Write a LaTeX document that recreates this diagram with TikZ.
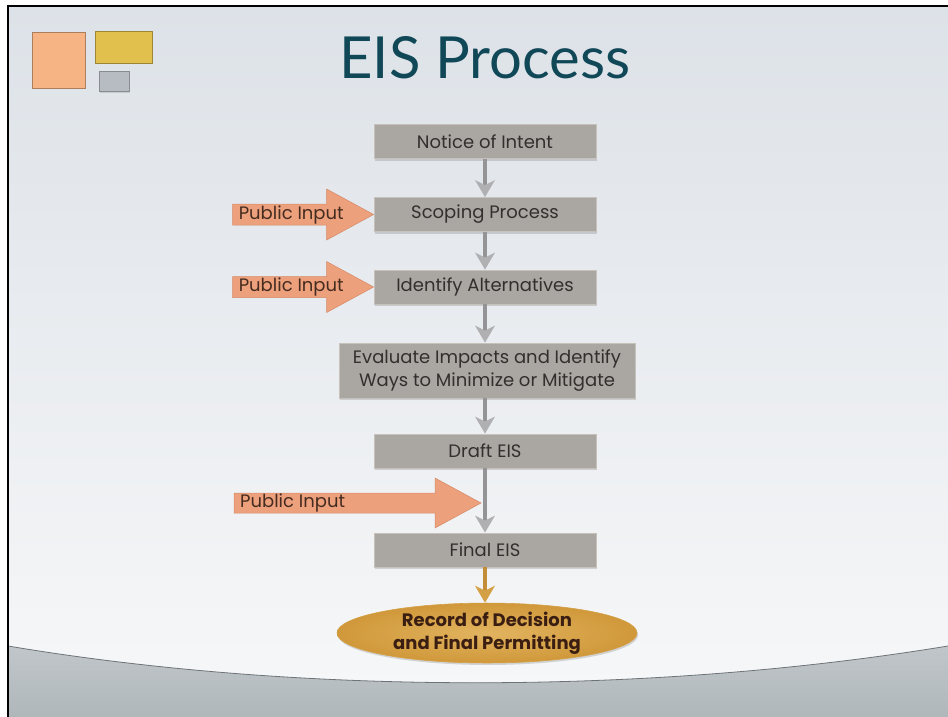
\documentclass[tikz,border=0pt]{standalone}
\usepackage{fontspec}
\setmainfont{Poppins}
\newfontfamily\titlefont{Lato}
\usetikzlibrary{arrows.meta,shapes.geometric,shadows}
\definecolor{slidetop}{RGB}{221,226,232}
\definecolor{slidelow}{RGB}{246,247,248}
\definecolor{floortop}{RGB}{192,198,202}
\definecolor{floorlow}{RGB}{176,183,187}
\definecolor{floorline}{RGB}{110,115,120}
\definecolor{titleteal}{RGB}{16,72,88}
\definecolor{stepgray}{RGB}{170,166,161}
\definecolor{stepedge}{RGB}{198,193,187}
\definecolor{steptext}{RGB}{50,48,46}
\definecolor{inputsalmon}{RGB}{236,160,124}
\definecolor{inputedge}{RGB}{214,138,104}
\definecolor{inputtext}{RGB}{70,44,32}
\definecolor{goldin}{RGB}{226,180,96}
\definecolor{goldout}{RGB}{208,152,58}
\definecolor{decisiontext}{RGB}{58,30,18}
\definecolor{linkgray}{RGB}{148,148,150}
\definecolor{headgray}{RGB}{176,176,178}
\definecolor{linkgold}{RGB}{196,142,56}
\definecolor{headgold}{RGB}{212,160,70}
\definecolor{decoorange}{RGB}{246,180,132}
\definecolor{decoyellow}{RGB}{226,192,78}
\definecolor{decogray}{RGB}{182,188,194}

\begin{document}
\begin{tikzpicture}[x=1pt,y=-1pt,
    stepbox/.style={rectangle, fill=stepgray, draw=stepedge, line width=0.8pt,
      text=steptext, font=\fontsize{18}{23}\selectfont, align=center,
      minimum width=222pt, minimum height=34pt, inner sep=2pt,
      drop shadow={shadow xshift=1pt, shadow yshift=-2pt, opacity=0.3}},
    decision/.style={ellipse, inner color=goldin, outer color=goldout,
      draw=headgold, line width=0.6pt, text=decisiontext,
      font=\bfseries\fontsize{18}{23}\selectfont, align=center,
      minimum width=300pt, minimum height=56pt, inner sep=0pt,
      drop shadow={shadow xshift=1pt, shadow yshift=-2pt, opacity=0.3}},
    pubin/.style={fill=inputsalmon, draw=inputedge, line width=0.5pt, line join=miter},
    publabel/.style={text=inputtext, font=\fontsize{18}{20}\selectfont,
      anchor=west, inner xsep=6pt, inner ysep=0pt},
    link/.style={draw=linkgray, line width=4pt,
      -{Stealth[length=17pt, width=20pt, inset=5pt, line width=0pt, color=headgray]}},
    goldlink/.style={draw=linkgold, line width=4pt,
      -{Stealth[length=17pt, width=20pt, inset=5pt, line width=0pt, color=headgold]}},
    deco/.style={line width=0.8pt, drop shadow={shadow xshift=1pt, shadow yshift=-1.5pt, opacity=0.25}}]

  \useasboundingbox (0,0) rectangle (948,717);
  \fill[white] (0,0) rectangle (948,717);
  \shade[top color=slidetop, bottom color=slidelow] (8,6) rectangle (948,690);
  \shade[top color=floortop, bottom color=floorlow]
    (8,646) .. controls (300,695) and (650,695) .. (948,646) -- (948,717) -- (8,717) -- cycle;
  \draw[floorline, line width=0.8pt] (8,646) .. controls (300,695) and (650,695) .. (948,646);
  \draw[black, line width=2pt] (8,717) -- (8,6) -- (948,6);

  \filldraw[deco, fill=decoorange, draw=decoorange!70!black] (32,32) rectangle (85,88);
  \filldraw[deco, fill=decoyellow, draw=decoyellow!70!black] (95,31) rectangle (152,63);
  \filldraw[deco, fill=decogray, draw=decogray!75!black] (99,71) rectangle (129,91);

  \node[text=titleteal, font=\titlefont\fontsize{58}{60}\selectfont, anchor=base] (title) at (485,78) {EIS Process};

  \node[stepbox] (notice) at (485,141.5) {Notice of Intent};
  \node[stepbox] (scoping) at (485,214.5) {Scoping Process};
  \node[stepbox] (alternatives) at (485,287) {Identify Alternatives};
  \node[stepbox, minimum width=296pt, minimum height=55pt] (evaluate) at (487,370.5)
    {Evaluate Impacts and Identify\\Ways to Minimize or Mitigate};
  \node[stepbox] (draft) at (485,451) {Draft EIS};
  \node[stepbox] (final) at (485,550) {Final EIS};
  \node[decision] (decision) at (487,633) {Record of Decision\\and Final Permitting};

  \coordinate (merge) at (481,503);

  \filldraw[pubin] (scoping.west) -- ++(-47,-25.5) -- ++(0,15) -- ++(-94,0)
    -- ++(0,21) -- ++(94,0) -- ++(0,15) -- cycle;
  \filldraw[pubin] (alternatives.west) -- ++(-47,-25.5) -- ++(0,15) -- ++(-94,0)
    -- ++(0,21) -- ++(94,0) -- ++(0,15) -- cycle;
  \filldraw[pubin] (merge) -- ++(-46,-25) -- ++(0,15) -- ++(-201,0)
    -- ++(0,20) -- ++(201,0) -- ++(0,15) -- cycle;
  \node[publabel] (input1) at ([xshift=-141pt]scoping.west) {Public Input};
  \node[publabel] (input2) at ([xshift=-141pt]alternatives.west) {Public Input};
  \node[publabel] (input3) at ([xshift=-247pt]merge) {Public Input};

  \draw[link] (notice.south) -- (scoping.north);
  \draw[link] (scoping.south) -- (alternatives.north);
  \draw[link] (alternatives.south) -- (alternatives.south |- evaluate.north);
  \draw[link] (alternatives.south |- evaluate.south) -- (draft.north);
  \draw[link] (draft.south) -- (final.north);
  \draw[goldlink] (final.south) -- (final.south |- decision.north);
\end{tikzpicture}
\end{document}
